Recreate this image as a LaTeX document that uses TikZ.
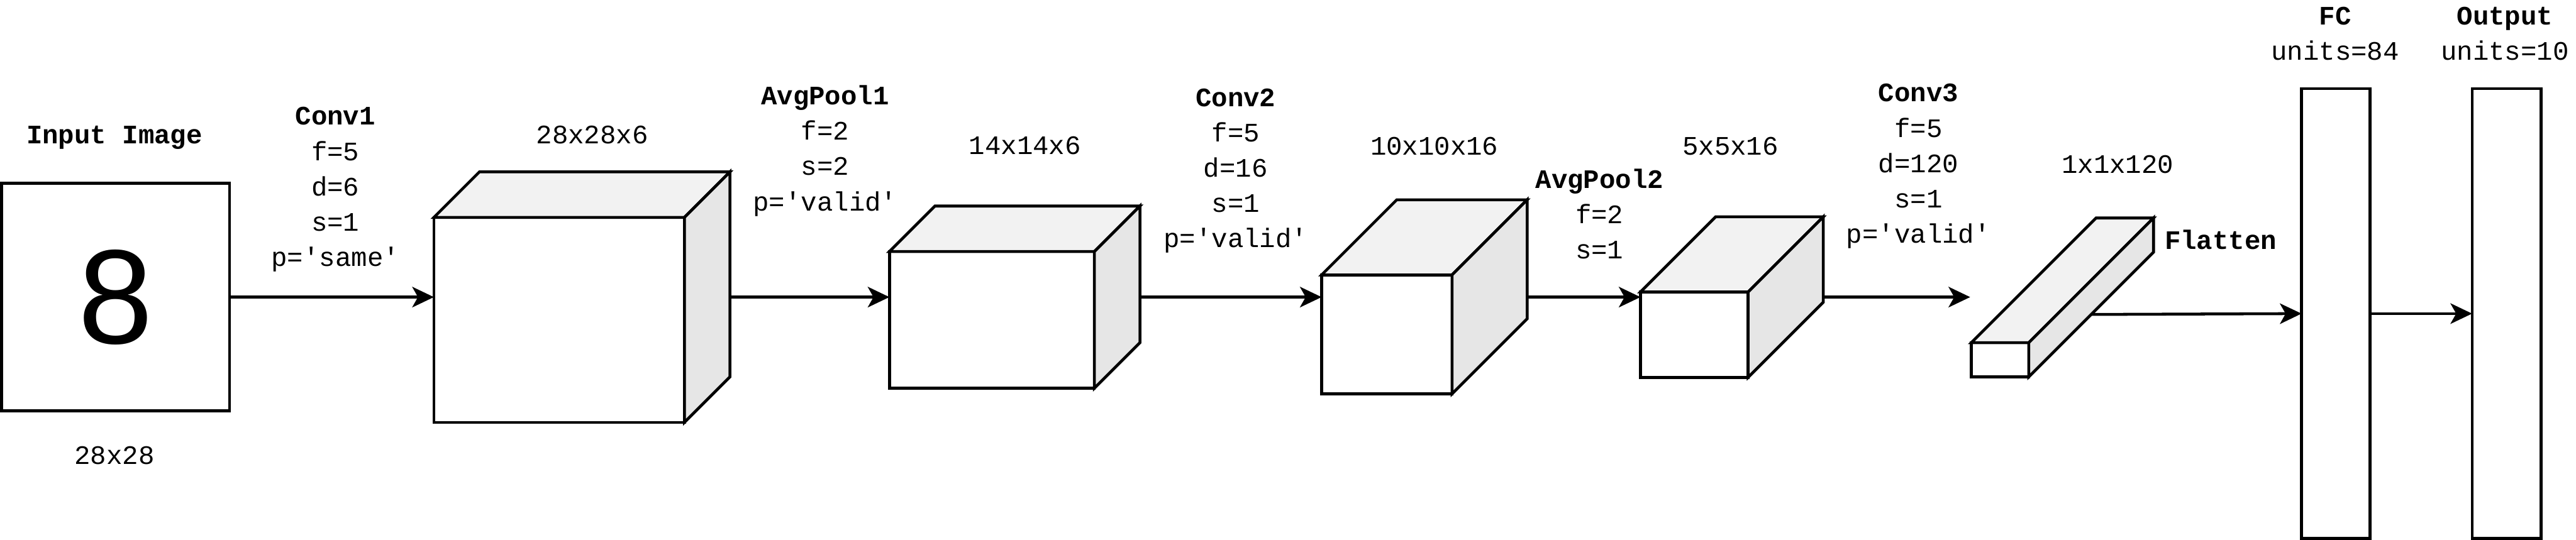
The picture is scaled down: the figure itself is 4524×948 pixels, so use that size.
\documentclass[tikz,border=0pt]{standalone}
\usepackage{fontspec}
\setmonofont{Liberation Mono}
\newfontfamily\eightfont{Liberation Sans}
\usetikzlibrary{arrows.meta,calc}
\definecolor{topgray}{HTML}{F2F2F2}
\definecolor{sidegray}{HTML}{E6E6E6}
\newcommand{\mycube}[6]{%
  \node[box, anchor=north west, minimum width=#4*0.25pt, minimum height=#5*0.25pt] (#1) at (#2,#3) {};
  \path[topf] (#1.north west) -- ++(#6,-#6) -- ++(#4,0) -- (#1.north east) -- cycle;
  \path[sidef] (#1.north east) -- ++(#6,-#6) -- ++(0,#5) -- (#1.south east) -- cycle;
  \coordinate (#1-br) at ($(#1.north east)+(#6,-#6)$);
  \coordinate (#1-bb) at ($(#1.south east)+(#6,-#6)$);
}
\begin{document}
\begin{tikzpicture}[x=0.25pt,y=-0.25pt,
  box/.style={draw, line width=1.25pt, fill=white, inner sep=0pt, outer sep=0pt},
  topf/.style={draw, line width=1.25pt, fill=topgray},
  sidef/.style={draw, line width=1.25pt, fill=sidegray},
  arr/.style={draw, line width=1.25pt, -{Stealth[length=9.5pt,width=9pt,inset=2.5pt]}},
  lbl/.style={font=\ttfamily\fontsize{11.7}{15.5}\selectfont, align=center, inner sep=0pt},
  blbl/.style={font=\ttfamily\bfseries\fontsize{11.7}{15.5}\selectfont, align=center, inner sep=0pt},
]
\useasboundingbox (0,0) rectangle (4524,948);

% input image
\node[box, minimum width=400*0.25pt, minimum height=400*0.25pt] (inp) at (203,522)
  {\eightfont\fontsize{59}{59}\selectfont 8};
\node[blbl] (inptitle) at (201,242) {Input Image};
\node[lbl] (inpsize) at (201,800) {28x28};

% feature volumes
\mycube{c1}{762}{382}{440}{360}{80}
\mycube{c2}{1562}{442}{360}{240}{80}
\mycube{c3}{2321}{483}{229}{209}{132}
\mycube{c4}{2881}{513}{189}{150}{132}
\mycube{fl}{3462}{602}{101}{60}{219}

\node[lbl] (c1size) at (1040,237) {28x28x6};
\node[lbl] (c2size) at (1800,256) {14x14x6};
\node[lbl] (c3size) at (2519,257) {10x10x16};
\node[lbl] (c4size) at (3039,257) {5x5x16};
\node[lbl] (flsize) at (3719,289) {1x1x120};
\node[blbl] (fltitle) at (3900,421) {Flatten};

% layer parameters
\node[lbl] (conv1) at (589,333) {{\bfseries Conv1}\\f=5\\d=6\\s=1\\p='same'};
\node[lbl] (pool1) at (1449,265) {{\bfseries AvgPool1}\\f=2\\s=2\\p='valid'};
\node[lbl] (conv2) at (2170,300) {{\bfseries Conv2}\\f=5\\d=16\\s=1\\p='valid'};
\node[lbl] (pool2) at (2809,376) {{\bfseries AvgPool2}\\f=2\\s=1};
\node[lbl] (conv3) at (3369,292) {{\bfseries Conv3}\\f=5\\d=120\\s=1\\p='valid'};

% dense layers
\node[box, minimum width=120*0.25pt, minimum height=790*0.25pt] (fc) at (4102,551) {};
\node[box, minimum width=121*0.25pt, minimum height=790*0.25pt] (out) at (4402,551) {};
\node[lbl] (fctitle) at (4101,59) {{\bfseries FC}\\units=84};
\node[lbl] (outtitle) at (4399,59) {{\bfseries Output}\\units=10};

% connectors
\coordinate (c5end) at (3460,522);
\draw[arr] (inp.east) -- (inp.east -| c1.west);
\draw[arr] (c1-br |- inp.east) -- (inp.east -| c2.west);
\draw[arr] (c2-br |- inp.east) -- (inp.east -| c3.west);
\draw[arr] (c3-br |- inp.east) -- (inp.east -| c4.west);
\draw[arr] (c4-br |- inp.east) -- (c5end);
\draw[arr] ($(fl.south east)!0.5!(fl-bb)$) -- (fc.west);
\draw[arr] (fc.east) -- (out.west);
\end{tikzpicture}
\end{document}
